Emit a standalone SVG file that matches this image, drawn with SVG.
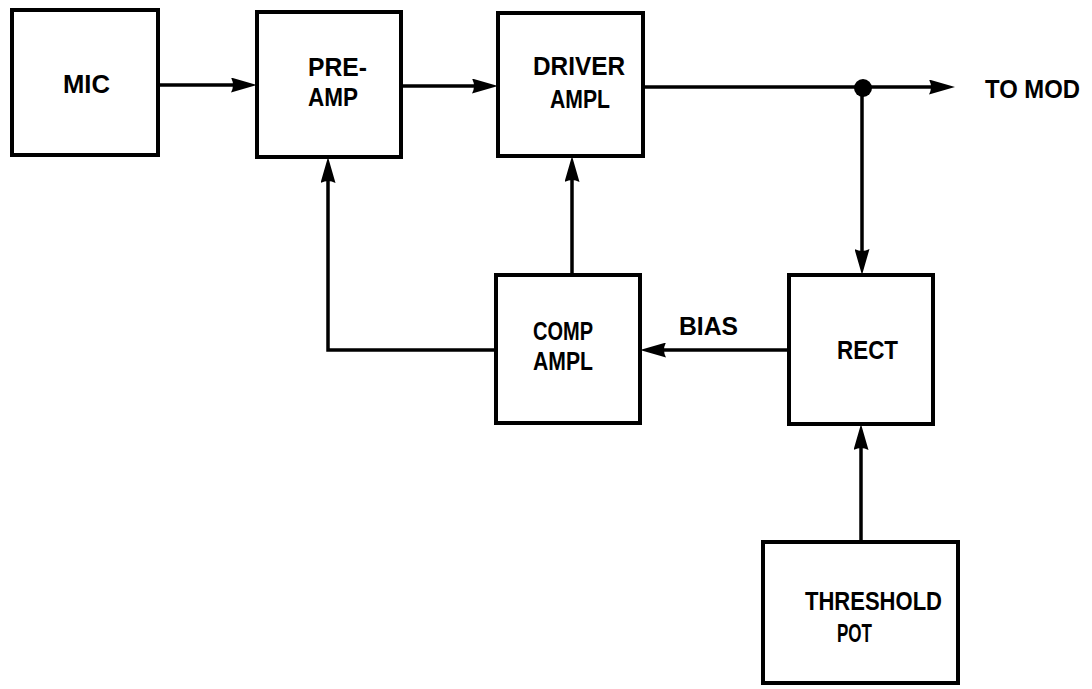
<svg xmlns="http://www.w3.org/2000/svg" width="1092" height="689" viewBox="0 0 1092 689">
<style>
.box{fill:none;stroke:#000;stroke-width:4}
.wire{fill:none;stroke:#000;stroke-width:3.5}
.arr{marker-end:url(#ah)}
text{font-family:"Liberation Sans",Arial,sans-serif;font-weight:bold;font-size:26px;fill:#000}
</style>
<defs>
<marker id="ah" viewBox="0 0 26 15" refX="13" refY="7.5" markerWidth="26" markerHeight="15" markerUnits="userSpaceOnUse" orient="auto">
<path d="M0,0 L26,7.5 L0,15 Q4,7.5 0,0 Z" fill="#000"/>
</marker>
</defs>
<rect width="1092" height="689" fill="#fff"/>
<g id="connectors">
<line class="wire arr" x1="157" y1="85" x2="244" y2="85"/>
<line class="wire arr" x1="401" y1="86" x2="485" y2="86"/>
<line class="wire arr" x1="643" y1="87" x2="942" y2="87"/>
<line class="wire arr" x1="862" y1="87" x2="862" y2="262"/>
<line class="wire arr" x1="789" y1="350" x2="653" y2="350"/>
<line class="wire arr" x1="572" y1="275" x2="572" y2="169"/>
<polyline class="wire arr" points="496,350 328,350 328,170"/>
<line class="wire arr" x1="861" y1="542" x2="861" y2="437"/>
<circle cx="863" cy="88" r="9" fill="#000"/>
</g>
<g id="mic">
<rect class="box" x="12" y="10" width="146" height="145"/>
<text x="63" y="93" textLength="47" lengthAdjust="spacingAndGlyphs">MIC</text>
</g>
<g id="preamp">
<rect class="box" x="257" y="12" width="144" height="145"/>
<text x="308" y="76" textLength="59" lengthAdjust="spacingAndGlyphs">PRE-</text>
<text x="308" y="106" textLength="50" lengthAdjust="spacingAndGlyphs">AMP</text>
</g>
<g id="driver">
<rect class="box" x="498" y="13" width="145" height="143"/>
<text x="533" y="75" textLength="92" lengthAdjust="spacingAndGlyphs">DRIVER</text>
<text x="550" y="108" textLength="60" lengthAdjust="spacingAndGlyphs">AMPL</text>
</g>
<g id="tomod">
<text x="985" y="98" textLength="95" lengthAdjust="spacingAndGlyphs">TO MOD</text>
</g>
<g id="comp">
<rect class="box" x="496" y="275" width="144" height="148"/>
<text x="533" y="340" textLength="60" lengthAdjust="spacingAndGlyphs">COMP</text>
<text x="533" y="370" textLength="60" lengthAdjust="spacingAndGlyphs">AMPL</text>
</g>
<g id="bias">
<text x="679" y="335" textLength="59" lengthAdjust="spacingAndGlyphs">BIAS</text>
</g>
<g id="rect">
<rect class="box" x="789" y="275" width="144" height="149"/>
<text x="837" y="359" textLength="61" lengthAdjust="spacingAndGlyphs">RECT</text>
</g>
<g id="threshold">
<rect class="box" x="763" y="542" width="195" height="141"/>
<text x="805" y="610" textLength="137" lengthAdjust="spacingAndGlyphs">THRESHOLD</text>
<text x="837" y="642" textLength="35" lengthAdjust="spacingAndGlyphs">POT</text>
</g>
</svg>
